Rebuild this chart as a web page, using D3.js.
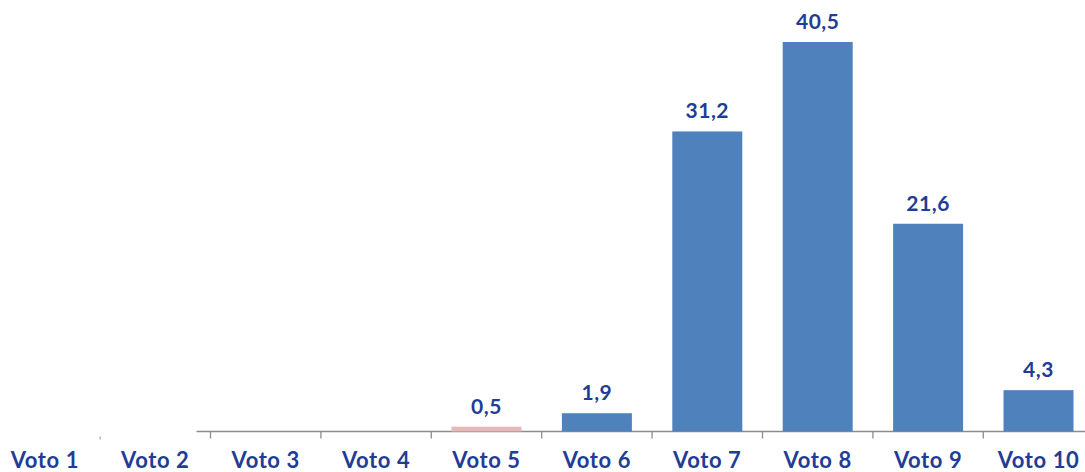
<!DOCTYPE html>
<html lang="it">
<head>
<meta charset="UTF-8">
<title>Voti</title>
<script src="https://cdnjs.cloudflare.com/ajax/libs/d3/7.8.5/d3.min.js"></script>
<style>
  html, body { margin: 0; padding: 0; background: #fff; }
  .lbl { font-family: Lato, "Open Sans", sans-serif; font-weight: bold; fill: #1f3d96; }
</style>
</head>
<body>
<div id="chart"></div>
<script>
// data
const categories = ["Voto 1", "Voto 2", "Voto 3", "Voto 4", "Voto 5", "Voto 6", "Voto 7", "Voto 8", "Voto 9", "Voto 10"];
const values = [null, null, 0, 0, 0.5, 1.9, 31.2, 40.5, 21.6, 4.3];
const highlight = ["Voto 5"];

const W = 1085, H = 472;
const baseY = 431.5;

const svg = d3.select("#chart").append("svg")
    .attr("width", W)
    .attr("height", H);

const x = d3.scaleBand()
    .domain(categories)
    .range([-10.3, 1093.7])
    .paddingInner(0.366)
    .paddingOuter(0.183);

const y = d3.scaleLinear()
    .domain([0, 40.5])
    .range([baseY, 42]);

const step = x.step();
const gap = (step - x.bandwidth()) / 2;

// axis line (starts a bit before Voto 3)
svg.append("line")
    .attr("x1", x("Voto 3") - gap - 14)
    .attr("x2", W)
    .attr("y1", baseY)
    .attr("y2", baseY)
    .attr("stroke", "#8c8c8c")
    .attr("stroke-width", 1.3);

// boundary ticks
const bounds = categories.slice(2).map(c => x(c) - gap);
svg.selectAll(".tick")
    .data(bounds)
    .enter().append("line")
    .attr("x1", d => d).attr("x2", d => d)
    .attr("y1", baseY).attr("y2", baseY + 7)
    .attr("stroke", "#8c8c8c")
    .attr("stroke-width", 1.3);

// stray tick between Voto 1 and Voto 2
const b12 = x("Voto 2") - gap;
svg.append("line")
    .attr("x1", b12).attr("x2", b12)
    .attr("y1", baseY + 5).attr("y2", baseY + 8)
    .attr("stroke", "#8c8c8c")
    .attr("stroke-width", 1);

const data = categories.map((c, i) => ({ cat: c, v: values[i] }));
const shown = data.filter(d => d.v !== null && d.v > 0);

// bars
svg.selectAll(".bar")
    .data(shown)
    .enter().append("rect")
    .attr("class", "bar")
    .attr("x", d => x(d.cat))
    .attr("width", x.bandwidth())
    .attr("y", d => y(d.v))
    .attr("height", d => baseY - y(d.v))
    .attr("fill", d => highlight.includes(d.cat) ? "#e6b9b8" : "#4f81bd");

// value labels
svg.selectAll(".val")
    .data(shown)
    .enter().append("text")
    .attr("class", "lbl")
    .attr("x", d => x(d.cat) + x.bandwidth() / 2)
    .attr("y", d => y(d.v) - 13)
    .attr("text-anchor", "middle")
    .style("font-size", "21px")
    .style("letter-spacing", "0.5px")
    .text(d => d3.format(".1f")(d.v).replace(".", ","));

// category labels
svg.selectAll(".cat")
    .data(categories)
    .enter().append("text")
    .attr("class", "lbl")
    .attr("x", d => x(d) + x.bandwidth() / 2)
    .attr("y", 468)
    .attr("text-anchor", "middle")
    .style("font-size", "22px")
    .style("letter-spacing", "0.6px")
    .text(d => d);
</script>
</body>
</html>
